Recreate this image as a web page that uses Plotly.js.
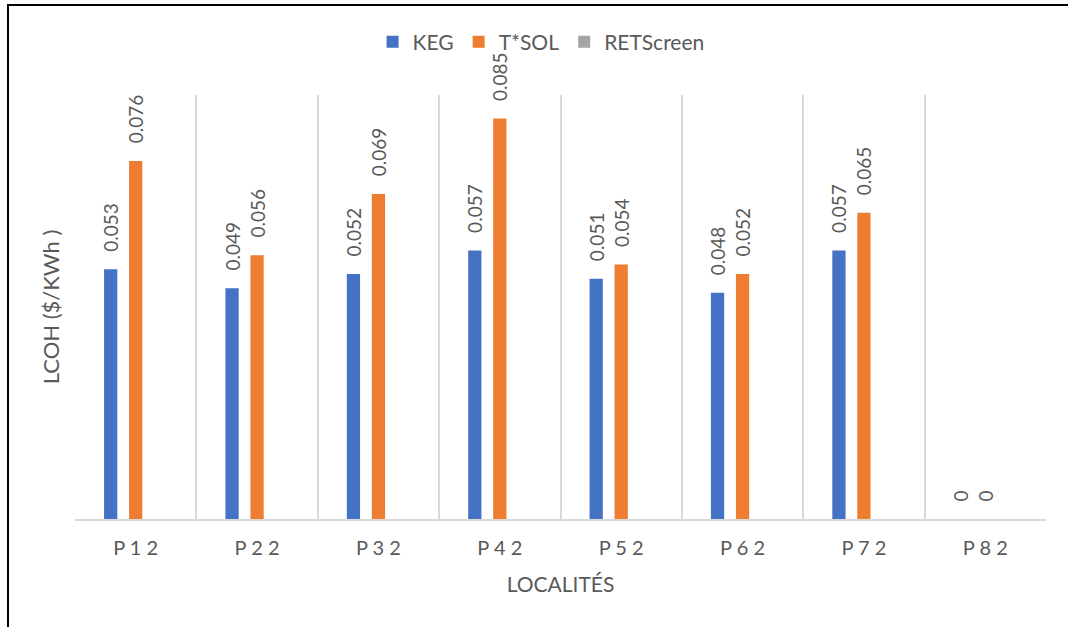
<!DOCTYPE html>
<html>
<head>
<meta charset="utf-8">
<script src="https://cdn.plot.ly/plotly-3.0.1.min.js"></script>
<style>
  html, body { margin: 0; padding: 0; background: #ffffff; }
  #frame {
    position: absolute; left: 7px; top: 4px; width: 1061px; height: 623px;
    border-left: 2px solid #000000; border-top: 2px solid #000000;
  }
  #chart { position: absolute; left: 0; top: 0; width: 1068px; height: 627px; }
</style>
</head>
<body>
<div id="chart"></div>
<div id="frame"></div>
<script>
// Localities on the category axis
const localites = ['P 1 2', 'P 2 2', 'P 3 2', 'P 4 2', 'P 5 2', 'P 6 2', 'P 7 2', 'P 8 2'];

// LCOH ($/kWh) per tool
const keg = [0.053, 0.049, 0.052, 0.057, 0.051, 0.048, 0.057, 0];
const tsol = [0.076, 0.056, 0.069, 0.085, 0.054, 0.052, 0.065, 0];
const retscreen = [null, null, null, null, null, null, null, null];

const textGrey = '#595959';
const gridGrey = '#D9D9D9';
const labelFont = { family: 'Lato, sans-serif', size: 19, color: textGrey };

function barTrace(name, values, color) {
  return {
    type: 'bar',
    name: name,
    x: localites,
    y: values,
    marker: { color: color },
    // value label, padded so it sits a little above the bar
    texttemplate: '\u00a0\u00a0\u00a0%{y:.3~f}',
    textposition: 'outside',
    textangle: -90,
    textfont: labelFont,
    constraintext: 'none',
    cliponaxis: false,
    hoverinfo: 'x+y+name'
  };
}

const data = [
  barTrace('KEG', keg, '#4472C4'),
  barTrace('T*SOL', tsol, '#ED7D31'),
  barTrace('RETScreen', retscreen, '#A5A5A5')
];

const layout = {
  width: 1068,
  height: 627,
  margin: { l: 75, r: 22, t: 95, b: 108 },
  paper_bgcolor: '#ffffff',
  plot_bgcolor: '#ffffff',
  font: { family: 'Lato, sans-serif', size: 19, color: textGrey },
  barmode: 'group',
  bargap: 0.382,
  bargroupgap: 0.47,
  showlegend: true,
  legend: {
    orientation: 'h',
    x: 0.48, xanchor: 'center',
    y: 1.125, yanchor: 'middle',
    bgcolor: 'rgba(0,0,0,0)',
    font: { family: 'Lato, sans-serif', size: 21, color: textGrey },
    itemclick: false
  },
  xaxis: {
    type: 'category',
    tickson: 'boundaries',
    showgrid: true,
    gridcolor: gridGrey,
    gridwidth: 2,
    showline: true,
    linecolor: gridGrey,
    linewidth: 2,
    ticks: '',
    ticklabelstandoff: 10,
    tickfont: { family: 'Lato, sans-serif', size: 20, color: textGrey },
    title: { text: 'LOCALITÉS', standoff: 19, font: { family: 'Lato, sans-serif', size: 21, color: textGrey } }
  },
  yaxis: {
    range: [0, 0.09],
    showgrid: false,
    zeroline: false,
    showline: false,
    showticklabels: false,
    ticks: '',
    title: { text: 'LCOH ($/KWh )', standoff: 8, font: { family: 'Lato, sans-serif', size: 22, color: textGrey } }
  }
};

Plotly.newPlot('chart', data, layout, { displayModeBar: false, staticPlot: true });
</script>
</body>
</html>
